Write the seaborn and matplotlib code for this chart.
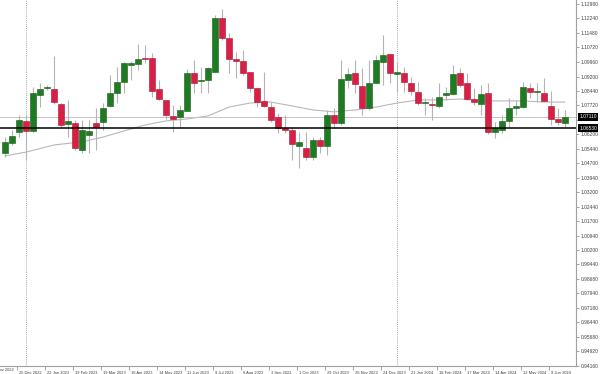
import numpy as np
import pandas as pd
import seaborn as sns
import matplotlib.pyplot as plt
import matplotlib.transforms as mtransforms

# weekly bars, the first one is the week of 11 Dec 2022
first_week = pd.Timestamp("2022-12-11")

opens = [1.0523, 1.0575, 1.0632, 1.0690, 1.0638, 1.0825, 1.0863, 1.0856, 1.0778, 1.0674,
         1.0679, 1.0539, 1.0617, 1.0679, 1.0684, 1.0768, 1.0835, 1.0892, 1.0981, 1.0986,
         1.1017, 1.1017, 1.0856, 1.0799, 1.0716, 1.0711, 1.0742, 1.0939, 1.0898, 1.0903,
         1.0944, 1.1225, 1.1121, 1.1012, 1.1002, 1.0944, 1.0861, 1.0794, 1.0762, 1.0711,
         1.0653, 1.0643, 1.0560, 1.0549, 1.0502, 1.0591, 1.0560, 1.0721, 1.0679, 1.0903,
         1.0939, 1.0872, 1.0757, 1.0887, 1.0996, 1.1038, 1.0934, 1.0939, 1.0887, 1.0840,
         1.0783, 1.0778, 1.0768, 1.0825, 1.0830, 1.0939, 1.0887, 1.0804, 1.0778, 1.0835,
         1.0632, 1.0643, 1.0690, 1.0757, 1.0762, 1.0861, 1.0840, 1.0835, 1.0768, 1.0700,
         1.0679]
highs = [1.0606, 1.0643, 1.0721, 1.0721, 1.0866, 1.0887, 1.0877, 1.1028, 1.0783, 1.0799,
         1.0695, 1.0695, 1.0695, 1.0757, 1.0783, 1.0929, 1.0970, 1.0996, 1.1002, 1.1090,
         1.1085, 1.1043, 1.0903, 1.0799, 1.0773, 1.0773, 1.0960, 1.1007, 1.0970, 1.0970,
         1.1241, 1.1272, 1.1147, 1.1048, 1.1059, 1.0944, 1.0861, 1.0944, 1.0788, 1.0731,
         1.0721, 1.0658, 1.0632, 1.0632, 1.0606, 1.0606, 1.0747, 1.0757, 1.1007, 1.0965,
         1.1007, 1.0965, 1.1007, 1.1033, 1.1137, 1.1038, 1.0996, 1.0970, 1.0918, 1.0892,
         1.0809, 1.0814, 1.0887, 1.0866, 1.0981, 1.0965, 1.0939, 1.0861, 1.0877, 1.0887,
         1.0684, 1.0721, 1.0809, 1.0799, 1.0892, 1.0887, 1.0887, 1.0913, 1.0846, 1.0757,
         1.0747]
lows = [1.0502, 1.0565, 1.0606, 1.0487, 1.0632, 1.0762, 1.0851, 1.0778, 1.0658, 1.0606,
        1.0539, 1.0523, 1.0523, 1.0539, 1.0643, 1.0762, 1.0783, 1.0835, 1.0903, 1.0955,
        1.0991, 1.0814, 1.0799, 1.0700, 1.0632, 1.0658, 1.0742, 1.0835, 1.0835, 1.0835,
        1.0944, 1.1111, 1.0939, 1.0913, 1.0929, 1.0840, 1.0762, 1.0762, 1.0684, 1.0628,
        1.0628, 1.0487, 1.0445, 1.0487, 1.0487, 1.0523, 1.0513, 1.0653, 1.0669, 1.0861,
        1.0835, 1.0721, 1.0747, 1.0887, 1.0877, 1.0887, 1.0840, 1.0840, 1.0825, 1.0773,
        1.0721, 1.0695, 1.0757, 1.0799, 1.0825, 1.0866, 1.0799, 1.0773, 1.0721, 1.0622,
        1.0601, 1.0628, 1.0658, 1.0721, 1.0757, 1.0809, 1.0788, 1.0794, 1.0669, 1.0669,
        1.0658]
closes = [1.0581, 1.0612, 1.0695, 1.0638, 1.0835, 1.0856, 1.0866, 1.0788, 1.0669, 1.0690,
          1.0549, 1.0643, 1.0638, 1.0658, 1.0757, 1.0835, 1.0892, 1.0991, 1.0991, 1.1012,
          1.1012, 1.0846, 1.0804, 1.0721, 1.0700, 1.0747, 1.0939, 1.0887, 1.0903, 1.0965,
          1.1225, 1.1121, 1.1012, 1.1002, 1.0939, 1.0861, 1.0788, 1.0768, 1.0695, 1.0653,
          1.0643, 1.0570, 1.0581, 1.0502, 1.0591, 1.0560, 1.0721, 1.0679, 1.0908, 1.0934,
          1.0882, 1.0757, 1.0887, 1.1007, 1.1033, 1.0939, 1.0944, 1.0892, 1.0846, 1.0783,
          1.0786, 1.0773, 1.0814, 1.0835, 1.0934, 1.0877, 1.0804, 1.0788, 1.0830, 1.0632,
          1.0653, 1.0690, 1.0757, 1.0768, 1.0866, 1.0840, 1.0843, 1.0794, 1.0700, 1.0684,
          1.0711]

# moving average at some bars
ma_bars = [1, 4, 8, 12, 15, 18, 21, 24, 27, 30, 33, 36, 39, 42, 45, 48, 51, 54,
           57, 60, 63, 66, 69, 72, 75, 78, 81]
ma_values = [1.0508, 1.0528, 1.0565, 1.0581, 1.0606, 1.0638, 1.0669, 1.0690, 1.0700,
             1.0716, 1.0762, 1.0783, 1.0788, 1.0768, 1.0747, 1.0737, 1.0747, 1.0762,
             1.0783, 1.0799, 1.0799, 1.0804, 1.0794, 1.0794, 1.0794, 1.0788, 1.0788]

date_labels = ["27 Nov 2022", "25 Dec 2022", "22 Jan 2023", "19 Feb 2023", "19 Mar 2023",
               "16 Apr 2023", "14 May 2023", "11 Jun 2023", "9 Jul 2023", "6 Aug 2023",
               "3 Sep 2023", "1 Oct 2023", "29 Oct 2023", "26 Nov 2023", "24 Dec 2023",
               "21 Jan 2024", "18 Feb 2024", "17 Mar 2024", "14 Apr 2024", "12 May 2024",
               "9 Jun 2024"]
separators = ["1 Jan 2023", "7 Jan 2024"]

price_ticks = [1.12980, 1.12240, 1.11480, 1.10720, 1.09960, 1.09200, 1.08440, 1.07720,
               1.06960, 1.06200, 1.05440, 1.04700, 1.03940, 1.03200, 1.02440, 1.01700,
               1.00940, 1.00200, 0.99440, 0.98680, 0.97940, 0.97180, 0.96440, 0.95680,
               0.94920, 0.94160]
bid_price = 1.07110
level_price = 1.06530


def bar_index(label):
    d = pd.Timestamp(label)
    return (d - first_week).days // 7 + 1


df = pd.DataFrame({"open": opens, "high": highs, "low": lows, "close": closes})
df["idx"] = np.arange(1, len(df) + 1)
df["up"] = df["close"] >= df["open"]
df["bottom"] = df[["open", "close"]].min(axis=1)
df["height"] = (df["close"] - df["open"]).abs()

sns.set_theme(style="white")
plt.rcParams["font.family"] = ["Liberation Sans", "DejaVu Sans"]

fig = plt.figure(figsize=(6.02, 3.74), dpi=100)
ax = fig.add_axes([0, 8 / 374, 576 / 602, 366 / 374])

green = "#1e7b22"
red = "#d81f45"

# moving average
sns.lineplot(x=ma_bars, y=ma_values, ax=ax, color="#b8b8b8", lw=0.8, zorder=1)

# year separators
for s in separators:
    ax.axvline(bar_index(s), color="#8c8c8c", lw=0.6, ls=(0, (1, 1.5)), zorder=0)

# horizontal lines
ax.axhline(bid_price, color="#c4c4c4", lw=0.7, zorder=1)
ax.axhline(level_price, color="black", lw=1.1, zorder=4)

# candles
ax.vlines(df["idx"], df["low"], df["high"], color="#b4b4b4", lw=0.8, zorder=2)
ax.bar(df["idx"], df["height"], bottom=df["bottom"], width=0.72,
       color=np.where(df["up"], green, red),
       edgecolor=np.where(df["up"], "#125c16", "#a8142f"), lw=0.4, zorder=3)

ax.set_xlim(1 - 5 / 7, 81 + 11 / 7)
ax.set_ylim(0.94156, 1.13188)

# price scale on the right; the label hidden behind the price boxes is left blank
ax.yaxis.tick_right()
ax.set_yticks(price_ticks)
ax.set_yticklabels(["" if abs(p - bid_price) < 0.003 else f"{p:.5f}" for p in price_ticks])
ax.tick_params(axis="y", which="both", right=True, length=2, width=0.5,
               color="#808080", labelsize=3.5, labelcolor="#404040", pad=1.5)

# time scale
tick_pos = [bar_index(l) - 0.3 for l in date_labels]
vis = [(p, l) for p, l in zip(tick_pos, date_labels) if p > ax.get_xlim()[0]]
ax.set_xticks([p for p, _ in vis])
ax.set_xticklabels([l for _, l in vis], ha="left")
ax.tick_params(axis="x", bottom=True, length=3, width=0.5, color="#808080",
               labelsize=2.9, labelcolor="#404040", pad=0.5)
offset = mtransforms.ScaledTranslation(1.5 / 72, 0, fig.dpi_scale_trans)
for lbl in ax.get_xticklabels():
    lbl.set_transform(lbl.get_transform() + offset)
# the first label is cut by the left edge
for p, l in zip(tick_pos, date_labels):
    if p <= ax.get_xlim()[0]:
        ax.annotate(l, xy=(p, 0), xycoords=("data", "axes fraction"),
                    xytext=(1.5, -1.5), textcoords="offset points", ha="left", va="top",
                    fontsize=2.9, color="#404040", annotation_clip=False)

# price boxes
trans = mtransforms.blended_transform_factory(ax.transAxes, ax.transData)
for p in [bid_price, level_price]:
    ax.text(1.006, p, f"{p:.5f}", transform=trans, fontsize=3.5, color="white",
            ha="left", va="center", clip_on=False, zorder=6,
            bbox=dict(boxstyle="square,pad=0.25", fc="black", ec="none"))

for side in ["top", "left"]:
    ax.spines[side].set_visible(False)
for side in ["right", "bottom"]:
    ax.spines[side].set_color("#a0a0a0")
    ax.spines[side].set_linewidth(0.8)

fig.savefig("out.png", dpi=100)
